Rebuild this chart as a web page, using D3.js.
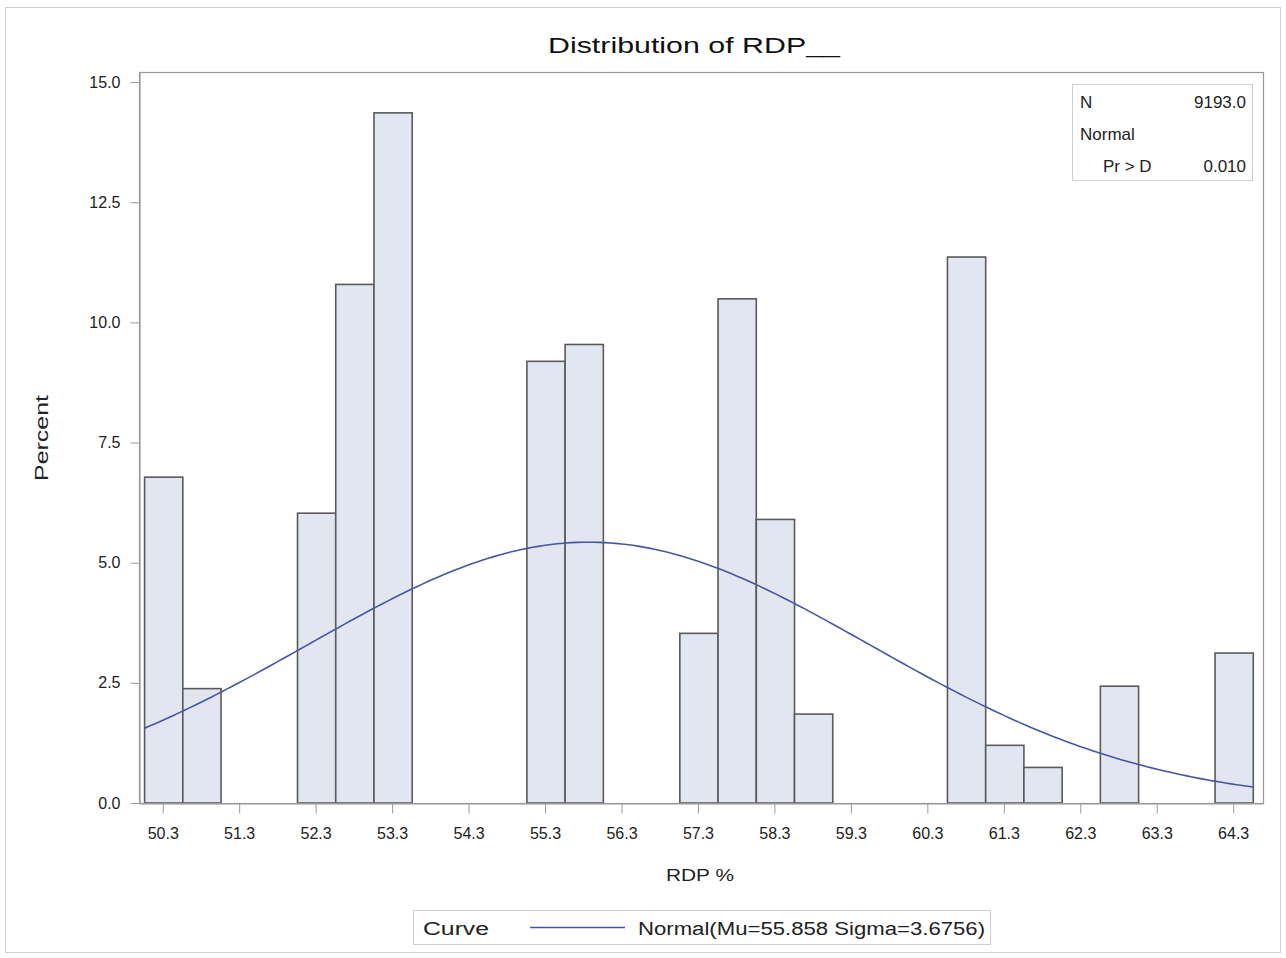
<!DOCTYPE html>
<html>
<head>
<meta charset="utf-8">
<script src="https://cdn.jsdelivr.net/npm/d3@7/dist/d3.min.js"></script>
<style>
  html, body { margin: 0; padding: 0; background: #fff; }
  svg { display: block; font-family: "Liberation Sans", Arial, sans-serif; }
</style>
</head>
<body>
<svg id="chart" width="1286" height="958"></svg>
<script>
// ---- data ----
const binMidpoints = [50.3, 50.8, 52.3, 52.8, 53.3, 55.3, 55.8, 57.3, 57.8, 58.3, 58.8, 60.8, 61.3, 61.8, 62.8, 64.3];
const binPercents  = [6.78, 2.38, 6.03, 10.79, 14.36, 9.19, 9.54, 3.53, 10.49, 5.90, 1.85, 11.36, 1.20, 0.74, 2.43, 3.12];
const binWidth = 0.5;
const xTickValues = [50.3, 51.3, 52.3, 53.3, 54.3, 55.3, 56.3, 57.3, 58.3, 59.3, 60.3, 61.3, 62.3, 63.3, 64.3];
const yTickValues = [0, 2.5, 5, 7.5, 10, 12.5, 15];
const normalMu = 55.858;
const normalSigma = 3.6756;
const statsRows = [["N", "9193.0"], ["Normal", ""], ["Pr > D", "0.010"]];
const titleText = "Distribution of RDP__";
const xLabel = "RDP %";
const yLabel = "Percent";
const legendTitle = "Curve";
const legendEntry = "Normal(Mu=55.858 Sigma=3.6756)";

// ---- layout ----
const svg = d3.select("#chart");
const L = 139, R = 1263, T = 72, B = 803;

const x = d3.scaleLinear().domain([49.99, 64.69]).range([L, R]);
const y = d3.scaleLinear().domain([0, 15.21]).range([B, T]);

// outer border
svg.append("rect").attr("x", 5.5).attr("y", 7.5).attr("width", 1275).attr("height", 945)
  .attr("fill", "none").attr("stroke", "#d0d0d0").attr("stroke-width", 1);

// title
svg.append("text").attr("x", 694).attr("y", 53).attr("text-anchor", "middle")
  .attr("font-size", 22).attr("fill", "#111")
  .attr("textLength", 292).attr("lengthAdjust", "spacingAndGlyphs")
  .text(titleText);

// bars
const bw = x(binWidth) - x(0);
svg.append("g").selectAll("rect").data(binMidpoints).join("rect")
  .attr("x", (d) => x(d) - bw / 2 + 1)
  .attr("y", (d, i) => y(binPercents[i]))
  .attr("width", bw)
  .attr("height", (d, i) => y(0) - y(binPercents[i]))
  .attr("fill", "#e2e6f0")
  .attr("stroke", "#5a5a5a")
  .attr("stroke-width", 1.6);

// normal curve
const lo = binMidpoints[0] - binWidth / 2, hi = binMidpoints[binMidpoints.length - 1] + binWidth / 2;
const curvePts = d3.range(0, 201).map(i => {
  const v = lo + (hi - lo) * i / 200;
  const z = (v - normalMu) / normalSigma;
  const p = 100 * binWidth * Math.exp(-0.5 * z * z) / (normalSigma * Math.sqrt(2 * Math.PI));
  return [v, p];
});
svg.append("path").datum(curvePts)
  .attr("d", d3.line().x(d => x(d[0]) + 1).y(d => y(d[1])))
  .attr("fill", "none").attr("stroke", "#4456a4").attr("stroke-width", 1.6);

// frame
svg.append("rect").attr("x", L + 0.5).attr("y", T + 0.5).attr("width", R - L).attr("height", B - T)
  .attr("fill", "none").attr("stroke", "#9a9a9a").attr("stroke-width", 1.2);

// axes
const xAxis = d3.axisBottom(x).tickValues(xTickValues).tickFormat(d3.format(".1f")).tickSize(10).tickPadding(14).tickSizeOuter(0);
const gx = svg.append("g").attr("transform", `translate(0,${B + 0.5})`).call(xAxis);
gx.select(".domain").attr("stroke", "#9a9a9a").attr("stroke-width", 1.2);
gx.selectAll(".tick line").attr("stroke", "#9a9a9a");
gx.selectAll(".tick text").attr("font-size", 16).attr("fill", "#222").attr("font-family", "Liberation Sans, Arial, sans-serif");

const yAxis = d3.axisLeft(y).tickValues(yTickValues).tickFormat(d3.format(".1f")).tickSize(9).tickPadding(10).tickSizeOuter(0);
const gy = svg.append("g").attr("transform", `translate(${L + 0.5},0)`).call(yAxis);
gy.select(".domain").attr("stroke", "#9a9a9a").attr("stroke-width", 1.2);
gy.selectAll(".tick line").attr("stroke", "#9a9a9a");
gy.selectAll(".tick text").attr("font-size", 16).attr("fill", "#222").attr("font-family", "Liberation Sans, Arial, sans-serif");

// axis labels
svg.append("text").attr("x", 700).attr("y", 881).attr("text-anchor", "middle")
  .attr("font-size", 17).attr("fill", "#222")
  .attr("textLength", 68).attr("lengthAdjust", "spacingAndGlyphs").text(xLabel);
svg.append("text").attr("transform", "translate(48,438) rotate(-90)").attr("text-anchor", "middle")
  .attr("font-size", 18).attr("fill", "#222")
  .attr("textLength", 86).attr("lengthAdjust", "spacingAndGlyphs").text(yLabel);

// stats inset
const sb = svg.append("g");
sb.append("rect").attr("x", 1072.5).attr("y", 84.5).attr("width", 180).attr("height", 96)
  .attr("fill", "#fff").attr("stroke", "#cfcfcf");
statsRows.forEach((r, i) => {
  const yy = 108 + i * 32;
  sb.append("text").attr("x", i === 2 ? 1103 : 1080).attr("y", yy).attr("font-size", 17).attr("fill", "#222").text(r[0]);
  if (r[1]) sb.append("text").attr("x", 1246).attr("y", yy).attr("text-anchor", "end").attr("font-size", 17).attr("fill", "#222").text(r[1]);
});

// legend
const lg = svg.append("g");
lg.append("rect").attr("x", 413.5).attr("y", 910.5).attr("width", 577).attr("height", 34)
  .attr("fill", "#fff").attr("stroke", "#cfcfcf");
lg.append("text").attr("x", 423).attr("y", 935).attr("font-size", 18).attr("fill", "#222")
  .attr("textLength", 66).attr("lengthAdjust", "spacingAndGlyphs").text(legendTitle);
lg.append("line").attr("x1", 530).attr("x2", 625).attr("y1", 927.5).attr("y2", 927.5)
  .attr("stroke", "#4456a4").attr("stroke-width", 1.6);
lg.append("text").attr("x", 638).attr("y", 935).attr("font-size", 18).attr("fill", "#222")
  .attr("textLength", 347).attr("lengthAdjust", "spacingAndGlyphs").text(legendEntry);
</script>
</body>
</html>
